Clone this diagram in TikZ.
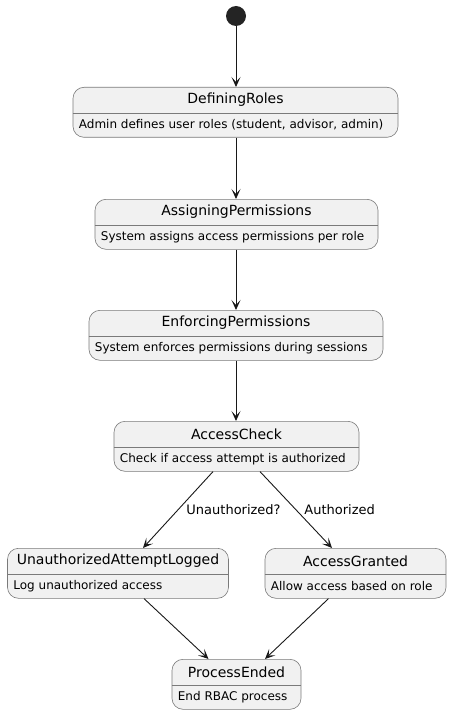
\documentclass[tikz,border=0pt]{standalone}
\usepackage{fontspec}
\setmainfont{DejaVu Sans}
\usetikzlibrary{arrows.meta}
\definecolor{stateline}{HTML}{181818}
\definecolor{stateedge}{HTML}{7A7A7A}
\definecolor{statefill}{HTML}{F1F1F1}
\tikzset{
	statebox/.style={draw=stateedge, line width=0.6pt, fill=statefill, rounded corners=11pt, minimum height=50pt, inner sep=0pt},
	titletext/.style={font=\fontsize{14}{16}\selectfont, inner sep=0pt},
	desctext/.style={font=\fontsize{12}{14}\selectfont, inner sep=0pt, anchor=west},
	guardtext/.style={font=\fontsize{13}{15}\selectfont, inner sep=0pt, anchor=west, xshift=8pt},
	startdot/.style={circle, fill=stateline!95, minimum size=20pt, inner sep=0pt},
	trans/.style={draw=stateline, line width=0.9pt, -{Stealth[length=10pt, width=9pt, inset=5pt]}}
}
% one state: name, centre x, top y, width, title, text
\newcommand{\rbacstate}[6]{%
	\node[statebox, minimum width=#4pt, anchor=north] (#1) at (#2,#3) {};
	\draw[stateedge, line width=0.6pt] ([yshift=-26pt]#1.north west) -- ([yshift=-26pt]#1.north east);
	\node[titletext] (#1-title) at ([yshift=-13pt]#1.north) {#5};
	\node[desctext] (#1-desc) at ([xshift=6pt, yshift=-38pt]#1.north west) {#6};
}

\begin{document}
\begin{tikzpicture}[x=1pt, y=-1pt]
	\useasboundingbox (0,0) rectangle (452,714);

	\node[startdot] (start) at (236,16) {};

	\rbacstate{defroles}{235.5}{87}{325}{DefiningRoles}{Admin defines user roles (student, advisor, admin)}
	\rbacstate{assign}{236.5}{199}{283}{AssigningPermissions}{System assigns access permissions per role}
	\rbacstate{enforce}{236}{310}{294}{EnforcingPermissions}{System enforces permissions during sessions}
	\rbacstate{check}{236.5}{421}{245}{AccessCheck}{Check if access attempt is authorized}
	\rbacstate{unauth}{118}{548}{221}{UnauthorizedAttemptLogged}{Log unauthorized access}
	\rbacstate{granted}{355.5}{548}{181}{AccessGranted}{Allow access based on role}
	\rbacstate{ended}{236.5}{659}{129}{ProcessEnded}{End RBAC process}

	% main line
	\draw[trans] (start) -- (start |- defroles.north);
	\draw[trans] (defroles.south -| start) -- (start |- assign.north);
	\draw[trans] (assign.south -| start) -- (start |- enforce.north);
	\draw[trans] (enforce.south -| start) -- (start |- check.north);

	% branches
	\draw[trans] ([xshift=-23.5pt]check.south) -- node[guardtext, pos=0.5] {Unauthorized?} ([xshift=25pt]unauth.north);
	\draw[trans] ([xshift=23.5pt]check.south) -- node[guardtext, pos=0.5] {Authorized} ([xshift=-23.5pt]granted.north);
	\draw[trans] ([xshift=26pt]unauth.south) -- ([xshift=-28pt]ended.north);
	\draw[trans] ([xshift=-27pt]granted.south) -- ([xshift=28.5pt]ended.north);
\end{tikzpicture}
\end{document}
